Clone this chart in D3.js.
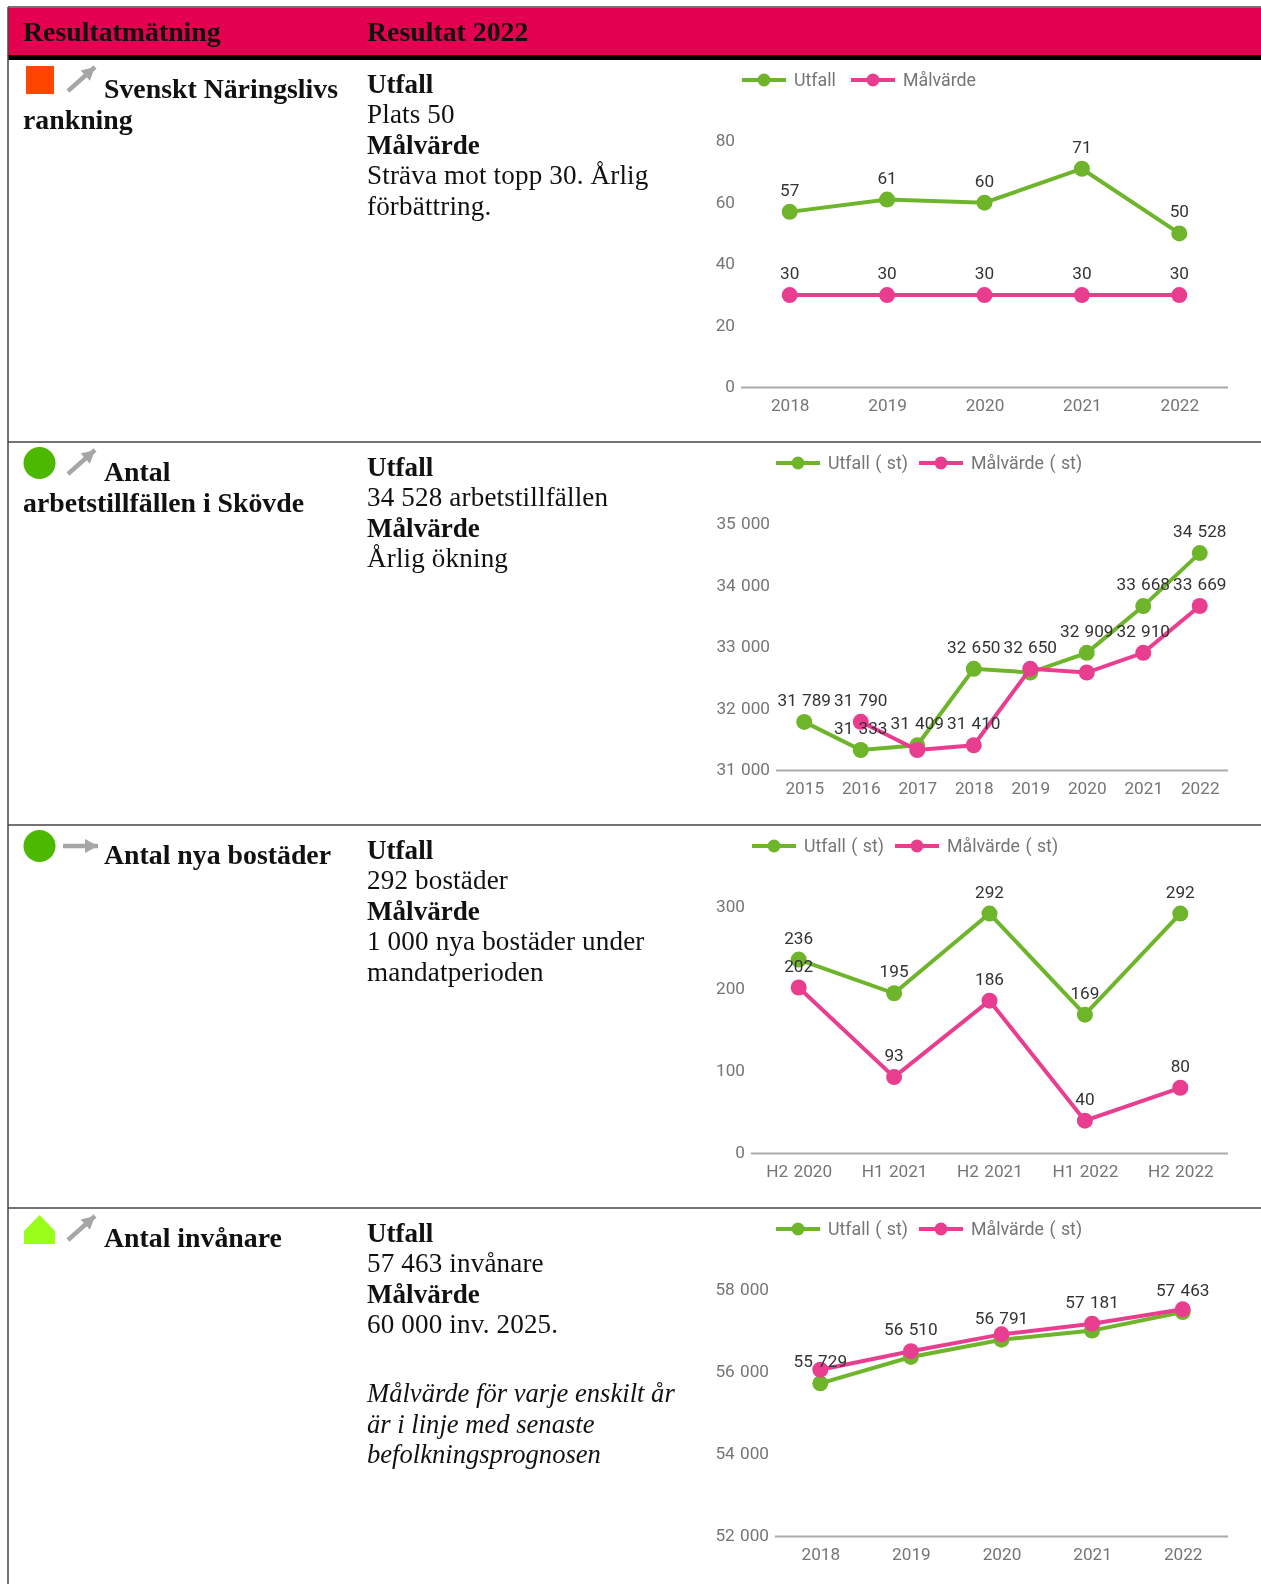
<!DOCTYPE html>
<html lang="sv">
<head>
<meta charset="UTF-8" />
<title>Resultat 2022</title>
<script src="https://cdn.jsdelivr.net/npm/d3@7"></script>
<style>
	body { margin: 0; background: #fff; }
	svg { display: block; filter: blur(0.35px); }
	.serif { font-family: "Liberation Serif", serif; font-size: 27.1px; letter-spacing: 0.15px; fill: #111; }
	.serif.bold { font-size: 27.8px; font-weight: bold; letter-spacing: 0; }
	.serif.midbold { font-size: 27.1px; font-weight: bold; letter-spacing: 0; }
	.serif.italic { font-size: 26.6px; font-style: italic; letter-spacing: 0; }
	.chart text { font-family: Roboto, sans-serif; font-size: 17.2px; word-spacing: 1px; }
	.chart text.legend { font-size: 17.8px; }
</style>
</head>
<body>
<svg id="mainsvg" width="1261" height="1584"></svg>
<script>
const categories1 = ["2018", "2019", "2020", "2021", "2022"]
const utfall1 = [57, 61, 60, 71, 50]
const malvarde1 = [30, 30, 30, 30, 30]
const utfallLabels1 = [57, 61, 60, 71, 50]
const malvardeLabels1 = [30, 30, 30, 30, 30]
const ticks1 = [0, 20, 40, 60, 80]

const categories2 = ["2015", "2016", "2017", "2018", "2019", "2020", "2021", "2022"]
const utfall2 = [31789, 31333, 31409, 32650, 32590, 32909, 33668, 34528]
const malvarde2 = [null, 31790, 31333, 31410, 32650, 32590, 32910, 33669]
const utfallLabels2 = [31789, 31333, 31409, 32650, null, 32909, 33668, 34528]
const malvardeLabels2 = [null, 31790, null, 31410, 32650, null, 32910, 33669]
const ticks2 = [31000, 32000, 33000, 34000, 35000]

const categories3 = ["H2 2020", "H1 2021", "H2 2021", "H1 2022", "H2 2022"]
const utfall3 = [236, 195, 292, 169, 292]
const malvarde3 = [202, 93, 186, 40, 80]
const utfallLabels3 = [236, 195, 292, 169, 292]
const malvardeLabels3 = [202, 93, 186, 40, 80]
const ticks3 = [0, 100, 200, 300]

const categories4 = ["2018", "2019", "2020", "2021", "2022"]
const utfall4 = [55729, 56370, 56791, 57012, 57463]
const malvarde4 = [56060, 56510, 56920, 57181, 57530]
const utfallLabels4 = [55729, null, 56791, null, 57463]
const malvardeLabels4 = [null, 56510, null, 57181, null]
const ticks4 = [52000, 54000, 56000, 58000]

const headers = ["Resultatmätning", "Resultat 2022"]
const green = "#6fb52c"
const pink = "#e93e8f"

const svg = d3.select("#mainsvg")
const swedish = d3.formatLocale({ decimal: ",", thousands: " ", grouping: [3], currency: ["", " kr"] })
const fmt = swedish.format(",d")

// rows repeat every 383px
const rowStep = 383

const rows = [
	{ cats: categories1, ut: utfall1, mal: malvarde1, utL: utfallLabels1, malL: malvardeLabels1, ticks: ticks1, x0: 741, l1: 742, l2: 851, names: ["Utfall", "Målvärde"] },
	{ cats: categories2, ut: utfall2, mal: malvarde2, utL: utfallLabels2, malL: malvardeLabels2, ticks: ticks2, x0: 776, l1: 776, l2: 919, names: ["Utfall ( st)", "Målvärde ( st)"] },
	{ cats: categories3, ut: utfall3, mal: malvarde3, utL: utfallLabels3, malL: malvardeLabels3, ticks: ticks3, x0: 751, l1: 752, l2: 895, names: ["Utfall ( st)", "Målvärde ( st)"] },
	{ cats: categories4, ut: utfall4, mal: malvarde4, utL: utfallLabels4, malL: malvardeLabels4, ticks: ticks4, x0: 775, l1: 776, l2: 919, names: ["Utfall ( st)", "Målvärde ( st)"] },
]

function drawChart(r, i) {
	const off = i * rowStep
	const g = svg.append("g").attr("class", "chart").attr("transform", `translate(0,${off})`)
	const x = d3.scalePoint().domain(r.cats).range([r.x0, 1228]).padding(0.5)
	const y = d3.scaleLinear().domain(d3.extent(r.ticks)).range([387.5, 141])

	const yAxis = g.append("g").attr("transform", `translate(${r.x0},0)`)
		.call(d3.axisLeft(y).tickValues(r.ticks).tickSize(0).tickPadding(6).tickFormat(fmt))
	yAxis.select(".domain").remove()
	yAxis.selectAll("text").attr("fill", "#757575").attr("dy", "0.26em")

	const xAxis = g.append("g").attr("transform", "translate(0,387.5)")
		.call(d3.axisBottom(x).tickSize(0).tickPadding(11))
	xAxis.select(".domain").attr("stroke", "#aaa").attr("stroke-width", 2)
		.attr("d", `M${r.x0},0H1228`)
	xAxis.selectAll("text").attr("fill", "#757575")

	const series = [[r.ut, green], [r.mal, pink]]
	series.forEach(([vals, col]) => {
		const pts = r.cats.map((c, j) => ({ c, v: vals[j] }))
		const line = d3.line().defined((d) => d.v !== null).x((d) => x(d.c)).y((d) => y(d.v))
		g.append("path").attr("d", line(pts)).attr("fill", "none").attr("stroke", col).attr("stroke-width", 4)
		g.selectAll(null).data(pts.filter((d) => d.v !== null)).join("circle")
			.attr("cx", (d) => x(d.c)).attr("cy", (d) => y(d.v)).attr("r", 8).attr("fill", col)
	})

	// value labels go on top of both lines
	;[[r.ut, r.utL], [r.mal, r.malL]].forEach(([vals, labs]) => {
		r.cats.forEach((c, j) => {
			if (labs[j] === null) return
			g.append("text").attr("x", x(c)).attr("y", y(vals[j]) - 16)
				.attr("text-anchor", "middle").attr("fill", "#333").text(fmt(labs[j]))
		})
	})

	// legend
	;[[r.l1, green, r.names[0]], [r.l2, pink, r.names[1]]].forEach(([lx, col, name]) => {
		g.append("line").attr("x1", lx).attr("x2", lx + 44).attr("y1", 80).attr("y2", 80)
			.attr("stroke", col).attr("stroke-width", 4)
		g.append("circle").attr("cx", lx + 22).attr("cy", 80).attr("r", 6.5).attr("fill", col)
		g.append("text").attr("class", "legend").attr("x", lx + 52).attr("y", 86).attr("fill", "#757575").text(name)
	})
}

function serif(x, y, txt, kind = "") {
	svg.append("text").attr("class", `serif ${kind}`).attr("x", x).attr("y", y).text(txt)
}

// header band
svg.append("rect").attr("x", 8).attr("y", 8).attr("width", 1253).attr("height", 47).attr("fill", "#e4004f")
svg.append("rect").attr("x", 8).attr("y", 55).attr("width", 1253).attr("height", 5).attr("fill", "#000")
serif(23, 41, headers[0], "bold")
serif(367, 41, headers[1], "bold")

// grid lines
svg.append("line").attr("x1", 8).attr("x2", 1261).attr("y1", 7).attr("y2", 7).attr("stroke", "#444").attr("stroke-width", 1.5)
svg.append("line").attr("x1", 8).attr("x2", 8).attr("y1", 7).attr("y2", 1584).attr("stroke", "#444").attr("stroke-width", 1.5)
;[0, 1, 2].forEach((i) => {
	const yy = 442 + i * rowStep
	svg.append("line").attr("x1", 8).attr("x2", 1261).attr("y1", yy).attr("y2", yy).attr("stroke", "#444").attr("stroke-width", 1.5)
})

// left column
serif(104, 98, "Svenskt Näringslivs", "bold")
serif(23, 128.5, "rankning", "bold")
serif(104, 481, "Antal", "bold")
serif(23, 511.5, "arbetstillfällen i Skövde", "bold")
serif(104, 864, "Antal nya bostäder", "bold")
serif(104, 1247, "Antal invånare", "bold")

// middle column
const middle = [
	[["Utfall", 1], ["Plats 50"], ["Målvärde", 1], ["Sträva mot topp 30. Årlig"], ["förbättring."]],
	[["Utfall", 1], ["34 528 arbetstillfällen"], ["Målvärde", 1], ["Årlig ökning"]],
	[["Utfall", 1], ["292 bostäder"], ["Målvärde", 1], ["1 000 nya bostäder under"], ["mandatperioden"]],
	[["Utfall", 1], ["57 463 invånare"], ["Målvärde", 1], ["60 000 inv. 2025."]],
]
middle.forEach((lines, i) => {
	lines.forEach(([t, b], j) => serif(367, 93 + i * rowStep + j * 30.6 - (b ? 0 : 0.5), t, b ? "midbold" : ""))
})
;["Målvärde för varje enskilt år", "är i linje med senaste", "befolkningsprognosen"].forEach((t, j) => {
	serif(367, 1402 + j * 30.6, t, "italic")
})

// status icons
svg.append("rect").attr("x", 26).attr("y", 66).attr("width", 28).attr("height", 28).attr("fill", "#ff4500")
svg.append("circle").attr("cx", 39.5).attr("cy", 463).attr("r", 16).attr("fill", "#4db800")
svg.append("circle").attr("cx", 39.5).attr("cy", 846).attr("r", 16).attr("fill", "#4db800")
svg.append("path").attr("d", "M24,1231L39.5,1215L55,1231V1244H24Z").attr("fill", "#99ff1a")

function arrow(x1, y1, x2, y2) {
	const a = Math.atan2(y2 - y1, x2 - x1)
	const head = [[0, 0], [-13, -7], [-13, 7]].map(([u, v]) => [
		x2 + u * Math.cos(a) - v * Math.sin(a),
		y2 + u * Math.sin(a) + v * Math.cos(a),
	])
	svg.append("line").attr("x1", x1).attr("y1", y1).attr("x2", x2).attr("y2", y2)
		.attr("stroke", "#a6a6a6").attr("stroke-width", 4.5)
	svg.append("polygon").attr("points", head.join(" ")).attr("fill", "#a6a6a6")
}
arrow(68, 91, 95, 67)
arrow(68, 474, 95, 450)
arrow(63, 846, 98, 846)
arrow(68, 1240, 95, 1216)

rows.forEach(drawChart)
</script>
</body>
</html>
